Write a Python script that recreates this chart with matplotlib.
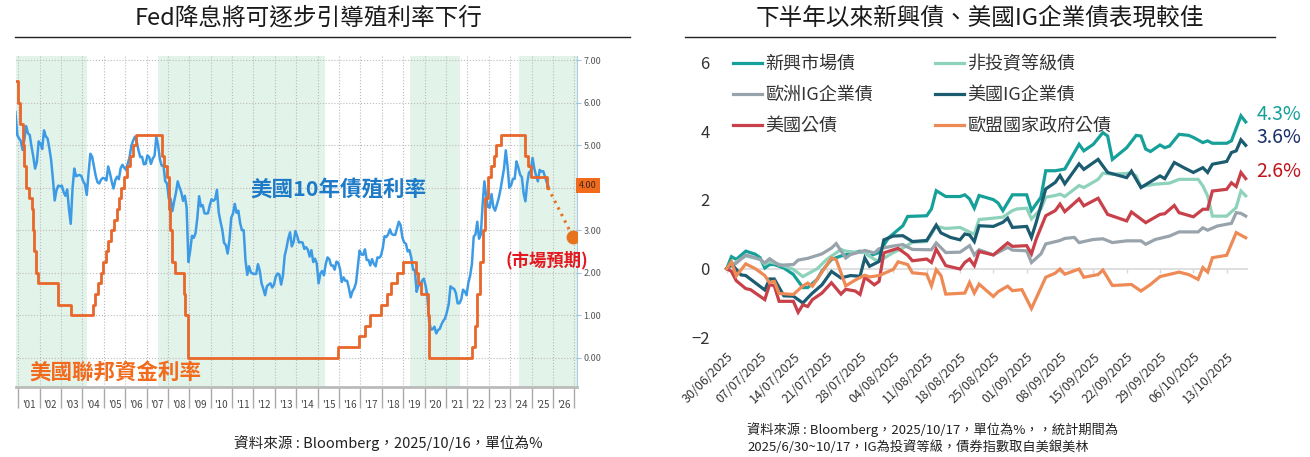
import pandas as pd
import matplotlib
matplotlib.use("Agg")
import matplotlib.pyplot as plt
from matplotlib.lines import Line2D

plt.rcParams['font.family'] = ['Noto Sans CJK TC', 'DejaVu Sans']

# ==========================================
# LEFT PANEL DATA
# ==========================================

# Fed funds (lower bound), change dates as decimal years
fed_x = [2000.90, 2001.01, 2001.08, 2001.21, 2001.29, 2001.37, 2001.49, 2001.64,
         2001.71, 2001.75, 2001.85, 2001.94, 2002.85, 2003.48, 2004.49, 2004.61,
         2004.72, 2004.86, 2004.95, 2005.09, 2005.22, 2005.33, 2005.49, 2005.60,
         2005.72, 2005.83, 2005.95, 2006.08, 2006.24, 2006.36, 2006.49, 2007.71,
         2007.83, 2007.94, 2008.06, 2008.08, 2008.21, 2008.33, 2008.77, 2008.82,
         2008.96, 2015.96, 2016.95, 2017.20, 2017.45, 2017.95, 2018.22, 2018.45,
         2018.73, 2018.97, 2019.58, 2019.71, 2019.83, 2020.17, 2020.20, 2022.21,
         2022.34, 2022.45, 2022.57, 2022.72, 2022.84, 2022.95, 2023.09, 2023.22,
         2023.34, 2023.56, 2024.71, 2024.85, 2024.96, 2025.71, 2025.77]
fed_y = [6.5, 6.0, 5.5, 5.0, 4.5, 4.0, 3.75, 3.5,
         3.0, 2.5, 2.0, 1.75, 1.25, 1.0, 1.25, 1.5,
         1.75, 2.0, 2.25, 2.5, 2.75, 3.0, 3.25, 3.5,
         3.75, 4.0, 4.25, 4.5, 4.75, 5.0, 5.25, 4.75,
         4.5, 4.25, 3.5, 3.0, 2.25, 2.0, 1.5, 1.0,
         0.0, 0.25, 0.5, 0.75, 1.0, 1.25, 1.5, 1.75,
         2.0, 2.25, 2.0, 1.75, 1.5, 1.0, 0.0, 0.25,
         0.75, 1.5, 2.25, 3.0, 3.75, 4.25, 4.5, 4.75,
         5.0, 5.25, 4.75, 4.5, 4.25, 4.0, 4.0]

# US 10Y yield, monthly from Nov 2000 to Oct 2025
ust10_y = [
    5.78, 5.24,                                                              # 2000
    5.16, 5.10, 4.89, 5.14, 5.45, 5.28, 5.24, 4.97, 4.73, 4.45, 4.60, 5.09,  # 2001
    5.04, 4.91, 5.35, 5.21, 5.16, 4.93, 4.65, 4.20, 3.70, 3.94, 4.05, 4.03,  # 2002
    4.05, 3.90, 3.81, 3.96, 3.50, 3.15, 3.98, 4.45, 4.27, 4.29, 4.30, 4.27,  # 2003
    4.15, 4.08, 3.83, 4.35, 4.80, 4.73, 4.50, 4.28, 4.13, 4.10, 4.19, 4.23,  # 2004
    4.22, 4.17, 4.50, 4.34, 4.14, 3.98, 4.18, 4.26, 4.20, 4.46, 4.54, 4.47,  # 2005
    4.42, 4.57, 4.72, 4.99, 5.11, 5.20, 5.09, 4.88, 4.72, 4.73, 4.55, 4.56,  # 2006
    4.76, 4.72, 4.56, 4.69, 4.75, 5.20, 5.00, 4.67, 4.52, 4.53, 4.15, 4.10,  # 2007
    3.74, 3.74, 3.45, 3.68, 3.88, 4.15, 4.01, 3.89, 3.69, 3.81, 3.53, 2.25,  # 2008
    2.52, 2.87, 2.82, 2.93, 3.29, 3.80, 3.56, 3.59, 3.40, 3.39, 3.40, 3.59,  # 2009
    3.73, 3.69, 3.73, 3.95, 3.42, 3.20, 3.01, 2.70, 2.65, 2.45, 2.76, 3.29,  # 2010
    3.39, 3.62, 3.41, 3.46, 3.17, 3.00, 3.00, 2.30, 1.95, 2.15, 2.01, 1.98,  # 2011
    1.97, 1.97, 2.20, 2.05, 1.75, 1.62, 1.47, 1.68, 1.72, 1.75, 1.65, 1.72,  # 2012
    1.91, 1.98, 1.96, 1.72, 1.93, 2.40, 2.58, 2.80, 2.95, 2.62, 2.72, 2.98,  # 2013
    2.86, 2.71, 2.72, 2.71, 2.56, 2.60, 2.54, 2.38, 2.53, 2.25, 2.33, 2.21,  # 2014
    1.75, 1.98, 2.04, 1.94, 2.20, 2.36, 2.32, 2.17, 2.17, 2.07, 2.26, 2.24,  # 2015
    2.09, 1.78, 1.89, 1.81, 1.81, 1.64, 1.42, 1.56, 1.63, 1.76, 2.14, 2.52,  # 2016
    2.43, 2.42, 2.55, 2.30, 2.30, 2.17, 2.32, 2.21, 2.15, 2.36, 2.35, 2.40,  # 2017
    2.58, 2.86, 2.84, 2.90, 3.02, 2.91, 2.89, 2.89, 3.05, 3.20, 3.12, 2.83,  # 2018
    2.71, 2.68, 2.50, 2.53, 2.35, 2.07, 2.06, 1.55, 1.70, 1.71, 1.81, 1.86,  # 2019
    1.70, 1.45, 0.87, 0.66, 0.67, 0.73, 0.57, 0.65, 0.68, 0.79, 0.87, 0.93,  # 2020
    1.08, 1.26, 1.68, 1.64, 1.62, 1.52, 1.28, 1.28, 1.37, 1.60, 1.56, 1.47,  # 2021
    1.76, 1.93, 2.20, 2.85, 2.90, 3.20, 2.80, 2.90, 3.60, 4.15, 3.80, 3.55,  # 2022
    3.53, 3.85, 3.55, 3.46, 3.60, 3.75, 3.95, 4.20, 4.45, 4.88, 4.50, 4.00,  # 2023
    4.06, 4.21, 4.21, 4.62, 4.48, 4.31, 4.25, 3.87, 3.68, 4.10, 4.36, 4.39,  # 2024
    4.70, 4.45, 4.28, 4.15, 4.42, 4.38, 4.39, 4.26, 4.12, 4.02,              # 2025
]
ust10_x = [2000 + (10 + i + 0.5) / 12 for i in range(len(ust10_y))]

# shaded periods
shade_start = [2000.90, 2007.55, 2019.32, 2024.41]
shade_end = [2004.20, 2015.35, 2021.65, 2027.20]

# market expectation
fcst_x = [2025.77, 2026.92]
fcst_y = [4.00, 2.85]

year_labels = ["'%02d" % (y % 100) for y in range(2001, 2027)]

# ==========================================
# RIGHT PANEL DATA (days since 30/06/2025, cumulative return %)
# ==========================================

start_date = pd.Timestamp("2025-06-30")

em_days = [0, 1, 2, 4, 6, 7, 8, 9, 10, 12, 14, 16, 17, 19, 20, 22, 24, 27, 28, 29,
           30, 32, 34, 37, 38, 42, 43, 44, 46, 49, 50, 51, 52, 53, 56, 57, 58, 60,
           63, 64, 66, 67, 69, 71, 74, 75, 77, 79, 80, 81, 84, 86, 87, 88, 89, 91,
           92, 93, 95, 97, 98, 100, 101, 102, 105, 106, 108, 109]
em_vals = [0.00, 0.35, 0.27, 0.51, 0.42, 0.32, 0.02, 0.12, 0.12, 0.02, -0.17, -0.55,
           -0.55, -0.31, -0.07, 0.27, 0.37, 0.47, 0.51, 0.47, 0.37, 0.47, 0.90, 1.25,
           1.52, 1.54, 1.74, 2.27, 2.10, 2.10, 2.15, 2.03, 1.76, 2.13, 2.01, 1.91,
           1.69, 2.15, 2.15, 1.69, 2.08, 2.85, 2.85, 2.90, 3.62, 3.43, 3.62, 3.96,
           3.86, 3.18, 3.52, 3.88, 3.86, 3.48, 3.41, 3.60, 3.52, 3.57, 3.91, 3.88,
           3.82, 3.67, 3.72, 3.65, 3.65, 3.72, 4.45, 4.27]

hy_days = [0, 2, 4, 7, 8, 9, 11, 14, 16, 19, 21, 24, 25, 28, 29, 31, 32, 35, 37, 39,
           42, 44, 46, 49, 52, 53, 56, 58, 60, 61, 63, 64, 66, 67, 69, 70, 71, 74,
           75, 78, 79, 81, 85, 86, 87, 90, 93, 95, 99, 100, 101, 102, 105, 107,
           108, 109]
hy_vals = [0.00, 0.20, 0.37, 0.27, 0.13, 0.20, 0.13, -0.02, -0.23, 0.00, 0.27, 0.56,
           0.51, 0.47, 0.47, 0.27, 0.22, 0.47, 0.60, 0.77, 0.79, 1.23, 1.17, 1.20,
           1.00, 1.43, 1.47, 1.50, 1.69, 1.74, 1.76, 1.45, 1.74, 2.08, 2.13, 2.17,
           2.10, 2.42, 2.36, 2.60, 2.78, 2.75, 2.78, 2.70, 2.39, 2.46, 2.49, 2.60,
           2.60, 2.41, 2.12, 1.53, 1.53, 1.78, 2.26, 2.12]

euig_days = [0, 2, 4, 6, 7, 8, 9, 11, 14, 15, 17, 20, 22, 23, 25, 26, 29, 31, 32, 35,
             37, 39, 43, 44, 46, 49, 51, 52, 53, 56, 59, 60, 63, 64, 66, 67, 70, 71,
             73, 74, 77, 79, 81, 84, 87, 88, 90, 93, 95, 99, 100, 101, 103, 106,
             107, 108, 109]
euig_vals = [0.00, 0.16, 0.40, 0.32, 0.27, 0.17, 0.29, 0.10, 0.12, 0.25, 0.30, 0.43,
             0.60, 0.73, 0.31, 0.41, 0.53, 0.46, 0.58, 0.66, 0.70, 0.56, 0.55, 0.75,
             0.47, 0.48, 0.67, 0.40, 0.55, 0.40, 0.62, 0.54, 0.52, 0.18, 0.43, 0.72,
             0.82, 0.88, 0.91, 0.76, 0.85, 0.87, 0.76, 0.81, 0.81, 0.71, 0.85, 0.95,
             1.07, 1.07, 1.19, 1.12, 1.24, 1.32, 1.63, 1.61, 1.53]

usig_days = [0, 1, 3, 4, 8, 9, 10, 12, 14, 16, 17, 18, 20, 22, 24, 26, 28, 29, 30, 32,
             33, 35, 37, 39, 42, 44, 45, 47, 49, 50, 51, 52, 53, 56, 58, 59, 60, 63,
             64, 65, 67, 69, 70, 71, 74, 75, 78, 80, 84, 85, 87, 91, 92, 94, 96, 98,
             100, 101, 102, 105, 106, 107, 108, 109]
usig_vals = [0.00, 0.14, -0.18, -0.20, -0.62, -0.30, -0.30, -0.79, -0.80, -1.00,
             -0.85, -0.71, -0.47, -0.08, -0.27, -0.20, -0.22, 0.31, 0.07, 0.21,
             0.84, 0.95, 0.96, 0.79, 0.82, 1.27, 1.04, 0.91, 0.84, 1.01, 0.98, 0.79,
             1.25, 1.23, 1.35, 1.47, 1.20, 1.23, 0.91, 1.35, 2.32, 2.51, 2.71, 2.47,
             3.05, 2.89, 3.18, 2.80, 2.65, 2.84, 2.36, 2.70, 2.62, 3.09, 2.94, 2.80,
             2.94, 2.80, 3.04, 3.12, 3.38, 3.43, 3.75, 3.59]

ust_days = [0, 1, 2, 4, 5, 8, 9, 10, 11, 14, 15, 16, 17, 18, 20, 22, 24, 25, 27, 28,
            29, 31, 32, 33, 35, 36, 38, 39, 42, 43, 44, 46, 49, 50, 51, 52, 53, 56,
            59, 60, 63, 64, 65, 67, 69, 70, 71, 74, 75, 78, 80, 84, 85, 88, 91, 92,
            94, 95, 98, 100, 101, 102, 105, 106, 107, 108, 109]
ust_vals = [0.00, -0.08, -0.35, -0.58, -0.61, -0.90, -0.46, -0.50, -0.95, -0.95,
            -1.27, -1.05, -1.10, -0.90, -0.71, -0.41, -0.74, -0.60, -0.65, -0.75,
            -0.25, -0.47, -0.37, 0.46, 0.55, 0.59, 0.39, 0.23, 0.28, 0.18, 0.57,
            0.09, -0.01, 0.18, 0.28, 0.09, 0.50, 0.40, 0.75, 0.65, 0.67, 0.43, 0.86,
            1.54, 1.69, 1.88, 1.66, 2.03, 1.83, 2.05, 1.58, 1.39, 1.65, 1.34, 1.58,
            1.60, 1.84, 1.63, 1.51, 1.73, 1.73, 2.26, 2.31, 2.50, 2.39, 2.80, 2.62]

eugov_days = [0, 1, 2, 4, 6, 8, 9, 10, 11, 14, 16, 17, 18, 22, 23, 25, 27, 29, 30,
              32, 35, 36, 38, 39, 42, 43, 44, 45, 46, 50, 51, 52, 53, 56, 57, 59,
              60, 62, 64, 67, 69, 70, 71, 74, 75, 78, 79, 81, 85, 87, 89, 91, 95,
              97, 99, 100, 101, 102, 105, 107, 109]
eugov_vals = [0.00, 0.20, -0.21, 0.14, 0.00, -0.20, -0.41, -0.37, -0.72, -0.75,
              -0.50, -0.42, -0.51, 0.31, 0.26, -0.50, -0.33, -0.19, -0.24, -0.20,
              -0.02, 0.20, 0.12, -0.12, -0.16, -0.50, -0.03, -0.20, -0.74, -0.71,
              -0.40, -0.71, -0.45, -0.81, -0.67, -0.51, -0.64, -0.61, -1.16, -0.25,
              -0.13, -0.01, -0.16, -0.01, -0.25, -0.17, -0.04, -0.49, -0.46, -0.65,
              -0.46, -0.23, -0.10, -0.17, -0.31, 0.03, -0.10, 0.32, 0.39, 1.05, 0.90]

series_names = ["新興市場債", "非投資等級債", "歐洲IG企業債", "美國IG企業債",
                "美國公債", "歐盟國家政府公債"]
series_days = [em_days, hy_days, euig_days, usig_days, ust_days, eugov_days]
series_vals = [em_vals, hy_vals, euig_vals, usig_vals, ust_vals, eugov_vals]
series_colors = ["#16A09A", "#8ED2BC", "#98A3AC", "#1C5C70", "#C8414A", "#EE8A55"]

end_labels = ["新興市場債", "美國IG企業債", "美國公債"]
end_label_colors = ["#16A09A", "#1B2F6B", "#C0141E"]

tick_days = list(range(0, 106, 7))


# ==========================================
# FIGURE
# ==========================================

W, H = 1310, 457
fig = plt.figure(figsize=(W / 100, H / 100), dpi=100)

# titles and rules
fig.text(309 / W, 1 - 18 / H, "Fed降息將可逐步引導殖利率下行",
         ha="center", va="center", fontsize=17, color="#1a1a1a")
fig.text(980 / W, 1 - 18 / H, "下半年以來新興債、美國IG企業債表現較佳",
         ha="center", va="center", fontsize=17, color="#1a1a1a")
fig.add_artist(Line2D([15 / W, 630 / W], [1 - 37 / H] * 2,
                      transform=fig.transFigure, color="#222222", lw=1))
fig.add_artist(Line2D([685 / W, 1275 / W], [1 - 37 / H] * 2,
                      transform=fig.transFigure, color="#222222", lw=1))


# ==========================================
# LEFT PANEL
# ==========================================

axL = fig.add_axes([16 / W, 1 - 387 / H, 561 / W, 331 / H])

for s, e in zip(shade_start, shade_end):
    axL.axvspan(s, e, color="#E2F3EA", lw=0, zorder=0)

axL.plot(ust10_x, ust10_y, color="#3D9BE6", lw=1.8, zorder=3)
axL.step(fed_x, fed_y, where="post", color="#E8672A", lw=2.0, zorder=4)
axL.plot(fcst_x, fcst_y, color="#E8731E", lw=2.2, ls=(0, (0.8, 1.6)), zorder=4)
axL.plot(fcst_x[-1], fcst_y[-1], "o", color="#E8731E", ms=9, zorder=5)

axL.set_xlim(2000.9, 2027.12)
axL.set_ylim(-0.69, 7.1)

axL.yaxis.tick_right()
axL.set_yticks(range(0, 8))
# the 4.00 level is shown by the orange box instead
axL.set_yticklabels(["" if v == 4 else "%.2f" % v for v in range(0, 8)])
axL.tick_params(axis="y", labelsize=6.5, labelcolor="#555555", length=3,
                width=0.8, color="#9EC4E4", pad=1.5)

axL.set_xticks(range(2001, 2028))
axL.set_xticklabels([])
axL.set_xticks([y + 0.5 for y in range(2001, 2027)], minor=True)
axL.set_xticklabels(year_labels, minor=True)
axL.tick_params(axis="x", which="major", length=15, width=1, color="#AAAAAA")
axL.tick_params(axis="x", which="minor", length=0, labelsize=7,
                labelcolor="#444444", pad=9)

axL.grid(True, which="major", ls=":", color="#BBBBBB", lw=0.8)
axL.set_axisbelow(True)

for side in ["top", "left"]:
    axL.spines[side].set_visible(False)
axL.spines["right"].set_color("#A9CBE6")
axL.spines["bottom"].set_color("#BBBBBB")
axL.spines["bottom"].set_linewidth(2)

axL.text(1.003, 4.05, "4.00", transform=axL.get_yaxis_transform(),
         fontsize=6.5, color="#3a2a1a", va="center", ha="left", zorder=6,
         clip_on=False,
         bbox=dict(boxstyle="square,pad=0.35", fc="#F26A1B", ec="none"))

axL.text(2015.95, 3.97, "美國10年債殖利率", color="#1E7BC8", fontsize=15.5,
         fontweight="bold", ha="center", va="center", zorder=6)
axL.text(2005.56, -0.34, "美國聯邦資金利率", color="#F26B1D", fontsize=15.5,
         fontweight="bold", ha="center", va="center", zorder=6)
axL.text(2025.7, 2.3, "(市場預期)", color="#E5171F", fontsize=12.5,
         fontweight="bold", ha="center", va="center", zorder=6)

fig.text(388 / W, 1 - 443 / H, "資料來源 : Bloomberg，2025/10/16，單位為%",
         ha="center", va="center", fontsize=10.5, color="#222222")


# ==========================================
# RIGHT PANEL
# ==========================================

axR = fig.add_axes([715 / W, 1 - 346 / H, 535 / W, 293.8 / H])

axR.hlines(0, 0, 109.5, color="#D9D9D9", lw=1.2, zorder=1)
axR.vlines(tick_days, -0.12, 0, color="#D9D9D9", lw=1.0, zorder=1)

lines = {}
for name, d, v, c in zip(series_names, series_days, series_vals, series_colors):
    ln, = axR.plot(d, v, color=c, lw=2.3, zorder=3, solid_joinstyle="miter")
    lines[name] = ln

axR.set_xlim(-2.46, 109.9)
axR.set_ylim(-2.25, 6.3)

axR.set_yticks([-2, 0, 2, 4, 6])
axR.tick_params(axis="y", length=0, labelsize=12, labelcolor="#333333", pad=4)

axR.set_xticks(tick_days)
axR.set_xticklabels([(start_date + pd.Timedelta(days=d)).strftime("%d/%m/%Y")
                     for d in tick_days],
                    rotation=45, ha="right", rotation_mode="anchor")
axR.tick_params(axis="x", length=0, labelsize=9, labelcolor="#333333", pad=3)

for side in axR.spines:
    axR.spines[side].set_visible(False)

# legend (column 1 then column 2)
order = ["新興市場債", "歐洲IG企業債", "美國公債",
         "非投資等級債", "美國IG企業債", "歐盟國家政府公債"]
axR.legend([lines[n] for n in order], order, ncol=2, frameon=False,
           loc="upper left", bbox_to_anchor=(733 / W, 1 - 55 / H),
           bbox_transform=fig.transFigure, fontsize=13, handlelength=1.6,
           handletextpad=0.2, columnspacing=3.4, labelspacing=0.72,
           borderpad=0, borderaxespad=0, labelcolor="#333333")

# end labels
for name, c in zip(end_labels, end_label_colors):
    i = series_names.index(name)
    last = series_vals[i][-1]
    axR.text(111.2, last + 0.22, "%.1f%%" % last, color=c, fontsize=14,
             ha="left", va="center", clip_on=False)

fig.text(747 / W, 1 - 438 / H,
         "資料來源 : Bloomberg，2025/10/17，單位為%，，統計期間為\n"
         "2025/6/30~10/17，IG為投資等級，債券指數取自美銀美林",
         ha="left", va="center", fontsize=9.5, color="#222222", linespacing=1.25)

fig.savefig("out.png", dpi=100)
